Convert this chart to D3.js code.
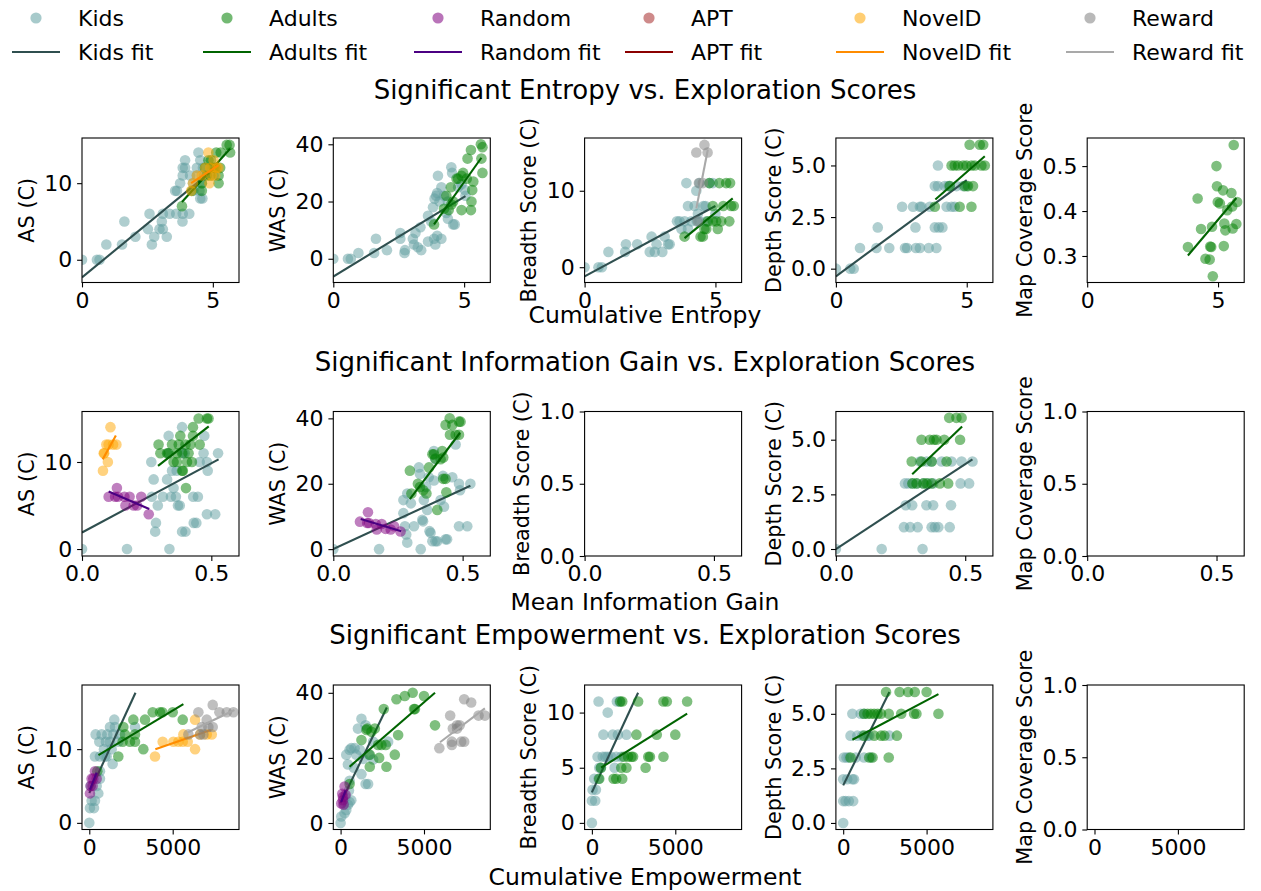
<!DOCTYPE html>
<html>
<head>
<meta charset="utf-8">
<script src="https://cdn.jsdelivr.net/npm/d3@7"></script>
<style>
body { margin: 0; background: #fff; }
svg { font-family: "DejaVu Sans", sans-serif; }
</style>
</head>
<body>
<svg id="chart" width="1261" height="891"></svg>
<script>
// groups and their colours
var groups = ["kids", "adults", "random", "apt", "noveld", "reward"];
var groupLabels = ["Kids", "Adults", "Random", "APT", "NovelD", "Reward"];
var pointColors = ["cadetblue", "green", "purple", "brown", "orange", "gray"];
var fitColors = ["darkslategray", "darkgreen", "indigo", "darkred", "darkorange", "darkgray"];

var rowTitles = ["Significant Entropy vs. Exploration Scores",
  "Significant Information Gain vs. Exploration Scores",
  "Significant Empowerment vs. Exploration Scores"];
var rowXLabels = ["Cumulative Entropy", "Mean Information Gain", "Cumulative Empowerment"];
var colYLabels = ["AS (C)", "WAS (C)", "Breadth Score (C)", "Depth Score (C)", "Map Coverage Score"];

var rowXDomains = [[0, 6.0], [0, 0.607], [-437, 8975]];
var rowXTicks = [[0, 5], [0, 0.5], [0, 5000]];
var rowXFormats = ["d", ".1f", "d"];

// ---- row 1: cumulative entropy ----
var entAS_kids = [[0,0],[0.57,0],[0.67,0],[0.93,2],[1.53,2],[1.62,5],[2.04,3],[2.52,4],[2.58,6],[2.67,2],[2.76,3],[2.96,4],[3.05,5],[3.09,4],[3.09,6],[3.24,3],[3.35,6],[3.56,9],[3.63,9],[3.6,6],[3.75,10],[3.84,5],[3.85,6],[4.1,6],[3.85,11],[3.85,12],[3.94,13],[3.94,12],[4.13,11],[4.45,14],[4.52,13],[4.52,8],[4.49,9],[4.58,10],[4.62,12],[4.67,11],[4.39,11],[4.39,12],[4.24,10],[4.26,9],[4.6,8],[4.95,12],[5.03,11]];
var entAS_adults = [[3.82,7],[4.2,9],[4.58,9],[4.58,10],[4.77,11],[4.83,13],[4.93,13],[5.03,12],[5.13,14],[5.22,11],[5.22,10],[5.28,12],[5.53,15],[5.64,15],[5.66,14],[5.3,14],[4.7,12],[4.9,11],[5.1,12]];
var entAS_noveld = [[4.17,9],[4.24,10],[4.39,11],[4.58,11],[4.71,12],[4.83,14],[4.87,10],[4.9,12],[4.96,11],[5.09,11],[5.15,12],[5.03,13],[5.22,12]];
var entAS_fits = [["kids",0,-2.3,5.03,11.8],["adults",3.82,7.55,5.66,14.5],["noveld",4.17,10.0,5.22,12.35]];

var entWAS_kids = [[0,0],[0.56,0],[0.67,0],[0.96,2],[1.63,7],[1.56,2],[2.05,3],[2.56,9],[2.56,7],[2.74,3],[2.72,2],[3.04,7],[3.08,5],[3.14,9],[3.23,4],[3.33,11],[3.36,3],[3.62,6],[3.62,15],[3.74,13],[3.85,7],[3.9,5],[3.97,8],[4.13,7],[3.81,18],[3.87,21],[3.97,23],[3.93,22],[4.0,29],[4.06,20],[4.23,22],[4.32,16],[4.38,14],[4.51,32],[4.54,30],[4.58,12],[4.64,12],[4.77,25],[4.9,26],[5.03,24],[5.05,22],[4.13,25],[4.38,20]];
var entWAS_adults = [[3.85,12],[4.23,17.5],[4.32,22],[4.41,17],[4.49,25],[4.71,28],[4.77,28],[4.9,29],[4.96,30],[4.51,19],[4.58,20],[4.9,17],[5.13,35],[5.26,38],[5.28,20],[5.31,24],[5.35,27],[5.26,17],[5.64,40],[5.7,39],[5.66,35],[5.7,30],[5.1,28]];
var entWAS_fits = [["kids",0,-6.2,5.05,21.9],["adults",3.85,12,5.66,35.3]];

var entBreadth_kids = [[0,0],[0.53,0],[0.66,0],[0.91,2],[1.58,3],[1.55,2],[2.01,3],[2.56,4],[2.49,2],[2.68,2],[2.75,3],[2.97,2],[3.06,4],[3.19,3],[3.25,3],[3.53,6],[3.63,6],[3.7,5],[3.82,6],[3.89,11],[3.95,8],[4.2,8],[4.27,10],[4.29,6],[4.39,11],[4.33,7],[4.39,6],[4.54,8],[4.62,8],[4.77,11],[4.9,11],[4.08,6],[3.95,5],[4.65,6],[5.0,7]];
var entBreadth_adults = [[3.82,4],[4.43,4],[4.52,4],[4.65,5],[4.71,6],[4.9,6],[5.03,6],[5.09,5],[5.22,6],[5.53,6],[4.77,11],[5.15,11],[5.41,11],[5.56,11],[5.6,8],[5.7,8],[4.58,5],[4.9,8],[5.3,8]];
var entBreadth_reward = [[4.27,15],[4.58,16],[4.7,15],[4.37,11],[4.52,11],[4.33,6]];
var entBreadth_fits = [["kids",0,-1.2,5.0,8.0],["adults",3.82,3.8,5.66,9.0],["reward",4.27,7.7,4.71,15.4]];

var entDepth_kids = [[0,0],[0.55,0],[0.68,0],[0.92,1],[1.55,1],[1.6,2],[2.04,1],[2.53,3],[2.64,1],[2.72,1],[2.95,3],[3.04,2],[3.06,1],[3.21,3],[3.21,1],[3.27,3],[3.55,1],[3.84,1],[3.78,2],[3.93,2],[4.07,2],[3.59,3],[3.78,4],[3.9,5],[3.9,4],[4.16,4],[4.29,4],[4.35,4],[4.23,3],[4.42,3],[4.54,3],[4.61,4],[4.86,4],[5.0,4]];
var entDepth_adults = [[3.78,3],[4.35,4],[4.42,5],[4.54,5],[4.67,5],[4.73,3],[4.92,4],[5.05,4],[5.11,6],[5.18,5],[5.24,4],[5.5,6],[5.63,6],[5.56,5],[5.69,5],[5.18,3],[4.99,5],[4.86,5],[5.31,5]];
var entDepth_fits = [["kids",0,-0.37,5.0,4.29],["adults",3.8,3.35,5.69,5.45]];

var entMap_adults = [[3.85,0.32],[4.22,0.428],[4.35,0.36],[4.52,0.294],[4.68,0.292],[4.7,0.321],[4.77,0.365],[4.74,0.32],[4.8,0.255],[4.94,0.5],[4.96,0.455],[4.99,0.42],[5.07,0.417],[5.19,0.446],[5.22,0.322],[5.24,0.372],[5.28,0.357],[5.35,0.402],[5.51,0.44],[5.54,0.41],[5.56,0.361],[5.6,0.547],[5.7,0.371],[5.73,0.42]];
var entMap_fits = [["adults",3.85,0.301,5.7,0.429]];

// ---- row 2: mean information gain ----
var igAS_kids = [[0,0],[0.174,0],[0.338,0],[0.268,10],[0.277,8],[0.27,6],[0.293,5],[0.286,3],[0.283,2],[0.313,6],[0.329,8],[0.335,13],[0.332,11],[0.344,6],[0.348,9],[0.354,7],[0.363,6],[0.366,9],[0.371,5],[0.378,5],[0.387,14],[0.387,2],[0.4,2],[0.391,11],[0.397,11],[0.432,3],[0.442,3],[0.448,6],[0.455,10],[0.47,11],[0.473,13],[0.483,10],[0.486,9],[0.483,4],[0.515,4],[0.526,11],[0.43,6]];
var igAS_adults = [[0.296,12],[0.303,11],[0.329,11],[0.335,11],[0.348,12],[0.354,10],[0.367,10],[0.38,13],[0.374,12],[0.387,9],[0.39,9],[0.4,12],[0.402,7],[0.412,11],[0.419,12],[0.429,13],[0.425,10],[0.429,14],[0.451,15],[0.483,15],[0.489,15],[0.455,12],[0.387,11],[0.367,11],[0.406,10]];
var igAS_noveld = [[0.081,9],[0.1,10],[0.086,11],[0.094,12],[0.11,14],[0.103,12],[0.133,12],[0.12,12],[0.084,11]];
var igAS_random = [[0.103,6],[0.135,7],[0.139,6],[0.128,6],[0.164,6],[0.168,5],[0.184,6],[0.2,5],[0.213,5],[0.229,6],[0.258,4]];
var igAS_fits = [["kids",0,1.9,0.528,10.3],["adults",0.294,9.55,0.49,14.1],["random",0.103,6.6,0.26,4.6],["noveld",0.08,10.3,0.131,13.05]];

var igWAS_kids = [[0,0],[0.177,0],[0.338,0],[0.271,15],[0.286,17],[0.271,11],[0.277,7],[0.282,4.5],[0.286,2],[0.3,14],[0.312,7],[0.331,25],[0.335,23],[0.344,9],[0.347,8.5],[0.35,15],[0.359,19],[0.363,12],[0.369,22],[0.372,5.5],[0.376,5],[0.383,2.4],[0.389,30],[0.395,27.5],[0.389,21],[0.395,2.4],[0.402,2.4],[0.415,15],[0.424,22.4],[0.428,13],[0.434,3],[0.44,3],[0.46,22],[0.473,32],[0.486,20],[0.486,7],[0.49,18],[0.518,7],[0.53,20]];
var igWAS_adults = [[0.296,24],[0.302,17],[0.327,20],[0.335,19],[0.348,18],[0.36,17],[0.37,25],[0.383,29],[0.389,29],[0.395,27.7],[0.415,27.5],[0.421,30],[0.425,28],[0.402,12],[0.425,21.5],[0.434,21.5],[0.437,17.4],[0.434,38],[0.45,40],[0.451,35],[0.46,38],[0.486,39],[0.492,39],[0.473,35],[0.486,35]];
var igWAS_random = [[0.103,8.4],[0.131,8],[0.134,11.3],[0.138,8],[0.164,7.7],[0.168,6],[0.187,7.7],[0.202,6.2],[0.222,6],[0.235,7],[0.26,5.4]];
var igWAS_fits = [["kids",0,0,0.53,19.4],["adults",0.296,15.3,0.49,35.6],["random",0.106,9.2,0.263,5.5]];

var igDepth_kids = [[0,0],[0.177,0],[0.335,0],[0.263,1],[0.287,1],[0.316,1],[0.37,1],[0.383,1],[0.396,1],[0.44,1],[0.27,2],[0.295,2],[0.35,2],[0.376,2],[0.445,2],[0.267,3],[0.28,3],[0.296,3],[0.312,3],[0.338,3],[0.357,3],[0.376,3],[0.482,3],[0.515,3],[0.325,4],[0.351,4],[0.37,4],[0.409,4],[0.447,4],[0.486,4],[0.528,4]];
var igDepth_adults = [[0.293,4],[0.296,3],[0.312,3],[0.331,4],[0.338,3],[0.351,3],[0.37,3],[0.402,3],[0.434,3],[0.331,5],[0.363,5],[0.379,5],[0.389,5],[0.419,5],[0.48,5],[0.428,4],[0.438,6],[0.466,6],[0.486,6],[0.37,4]];
var igDepth_fits = [["kids",0,0,0.528,4.1],["adults",0.295,3.42,0.488,5.6]];

// ---- row 3: cumulative empowerment ----
var empAS_kids = [[0,0],[40,2],[280,2],[140,3],[340,3],[540,4],[80,5],[440,5],[640,6],[640,7],[380,12],[600,11],[740,12],[340,9],[640,9],[880,10],[1000,11],[1240,11],[1340,10],[1080,12],[1440,12],[1240,13],[1540,13],[1500,14],[1400,8],[1740,11],[1840,12],[1040,9],[2740,13],[940,9]];
var empAS_adults = [[480,7],[1740,9],[2000,11],[2040,13],[2440,11],[2640,14],[2740,11],[3240,10],[3340,14],[2740,12],[3800,15],[4240,15],[4380,15],[5000,15],[5600,14],[2140,12]];
var empAS_random = [[40,4],[80,5],[140,6],[340,7],[240,6],[440,6],[200,5]];
var empAS_noveld = [[3940,9],[4400,11],[5040,11],[5340,11],[5600,11],[5640,12],[6340,10],[6340,14],[6640,12],[7040,12],[7340,12],[5900,11]];
var empAS_reward = [[5940,12],[6540,15],[6740,13],[7040,14],[7140,13],[7400,16],[7400,13],[7800,15],[8240,15],[8640,15],[6640,12],[6840,12]];
var empAS_fits = [["kids",0,4.05,2770,17.65],["adults",550,9.2,5640,16.1],["random",40,4.5,440,6.8],["noveld",3960,10.0,7280,12.6],["reward",5900,12.25,8700,15.3]];

var empWAS_kids = [[0,0],[40,2],[240,3],[340,4],[440,5.6],[540,6.4],[640,7],[200,6],[500,10],[540,13],[440,18],[340,21],[540,22.5],[640,23],[840,23],[940,21],[1040,29],[1250,32],[1350,19.7],[1150,22.5],[1500,30],[1250,15],[1500,12],[1650,12],[1700,21],[1950,25],[2850,25],[1950,19.5],[800,17],[300,8]];
var empWAS_adults = [[540,12],[1250,25.5],[1550,28.6],[1600,29],[1850,28],[2050,29],[1750,17.3],[2310,20],[2450,24],[2750,17.3],[2710,24],[2590,35],[3250,21],[3350,38],[3450,27],[3850,39],[4320,40],[4400,35],[4460,35],[5000,39],[5660,30],[1750,21],[2250,24]];
var empWAS_random = [[240,11.2],[140,8],[140,7],[180,5.6],[300,8.7],[40,6],[100,9]];
var empWAS_reward = [[5920,23],[6570,33],[6670,25],[6670,24],[6730,29],[6980,30],[7140,30],[7230,25],[7410,25],[7410,38],[7830,37],[8270,33],[8650,33],[6980,29]];
var empWAS_fits = [["kids",0,6.1,2770,35.5],["adults",540,17.3,5660,40],["random",40,6.5,300,10],["reward",5960,24.8,8650,35.2]];

var empBreadth_kids = [[0,0],[0,2],[200,2],[40,3],[240,3],[140,4],[400,4],[440,5],[340,6],[650,6],[810,6],[950,6],[1150,6],[400,11],[950,10],[690,8],[1250,8],[1460,6],[1360,5],[1500,11],[1660,11],[1560,8],[2070,8],[1760,6],[540,5]];
var empBreadth_adults = [[440,4],[540,5],[1300,4],[1460,4],[1820,4],[1700,11],[1820,11],[1760,5],[2070,5],[1920,6],[2170,6],[2370,6],[2470,6],[2670,8],[2770,11],[3220,5],[3380,6],[3480,6],[3890,8],[4290,6],[4290,11],[4490,11],[5000,8],[5710,11]];
var empBreadth_fits = [["kids",0,2.77,2770,11.8],["adults",550,5.0,5710,9.9]];

var empDepth_kids = [[0,0],[0,1],[140,1],[340,1],[600,1],[0,2],[240,2],[550,2],[650,2],[40,3],[340,3],[750,3],[1250,3],[440,4],[850,4],[1150,4],[1460,4],[2770,4],[550,5],[1050,5],[1250,5],[1560,4],[1660,3],[200,3]];
var empDepth_adults = [[440,3],[1250,5],[1460,5],[1660,5],[1860,5],[2060,5],[2270,5],[1560,3],[1760,3],[2270,4],[2470,4],[2730,3],[2570,6],[2730,5],[3220,4],[3380,6],[3480,5],[3890,6],[4290,6],[4250,5],[4390,5],[5000,6],[5710,5],[1860,4],[1250,4]];
var empDepth_fits = [["kids",0,1.72,2770,6.0],["adults",550,3.81,5710,5.9]];

// y axis ranges and ticks per panel (row, col)
var yDomains = [
  [[-2.97, 15.9], [-8.3, 42.2], [-2.0, 16.9], [-0.67, 6.33], [0.241, 0.5625]],
  [[-0.8, 15.8], [-2.1, 42.1], [0, 1], [-0.32, 6.29], [0, 1]],
  [[-0.9, 18.7], [-2.0, 42.4], [-0.6, 12.5], [-0.3, 6.32], [0, 1]]
];
var yTicks = [
  [[0, 10], [0, 20, 40], [0, 10], [0, 2.5, 5], [0.3, 0.4, 0.5]],
  [[0, 10], [0, 20, 40], [0, 0.5, 1], [0, 2.5, 5], [0, 0.5, 1]],
  [[0, 10], [0, 20, 40], [0, 5, 10], [0, 2.5, 5], [0, 0.5, 1]]
];
var yFormats = [
  ["d", "d", "d", ".1f", ".1f"],
  ["d", "d", ".1f", ".1f", ".1f"],
  ["d", "d", "d", ".1f", ".1f"]
];

var panelPoints = [
  [{kids: entAS_kids, adults: entAS_adults, noveld: entAS_noveld},
   {kids: entWAS_kids, adults: entWAS_adults},
   {kids: entBreadth_kids, adults: entBreadth_adults, reward: entBreadth_reward},
   {kids: entDepth_kids, adults: entDepth_adults},
   {adults: entMap_adults}],
  [{kids: igAS_kids, adults: igAS_adults, random: igAS_random, noveld: igAS_noveld},
   {kids: igWAS_kids, adults: igWAS_adults, random: igWAS_random},
   {},
   {kids: igDepth_kids, adults: igDepth_adults},
   {}],
  [{kids: empAS_kids, adults: empAS_adults, random: empAS_random, noveld: empAS_noveld, reward: empAS_reward},
   {kids: empWAS_kids, adults: empWAS_adults, random: empWAS_random, reward: empWAS_reward},
   {kids: empBreadth_kids, adults: empBreadth_adults},
   {kids: empDepth_kids, adults: empDepth_adults},
   {}]
];
var panelFits = [
  [entAS_fits, entWAS_fits, entBreadth_fits, entDepth_fits, entMap_fits],
  [igAS_fits, igWAS_fits, [], igDepth_fits, []],
  [empAS_fits, empWAS_fits, empBreadth_fits, empDepth_fits, []]
];

// layout
var colLeft = [82, 333.3, 584.6, 835.9, 1087.2], axW = 157;
var rowTop = [138, 411.5, 685], axH = 144.5;
var tickFont = 22, labelFont = 20.8;

var svg = d3.select("#chart");

for (var r = 0; r < 3; r++) {
  for (var c = 0; c < 5; c++) {
    drawPanel(r, c);
  }
  svg.append("text").attr("x", 645).attr("y", [99, 371, 644][r])
    .attr("text-anchor", "middle").style("font-size", "26px").text(rowTitles[r]);
  svg.append("text").attr("x", 645).attr("y", [323, 610, 885][r])
    .attr("text-anchor", "middle").style("font-size", "23.5px").text(rowXLabels[r]);
}

function drawPanel(r, c) {
  var x = d3.scaleLinear().domain(rowXDomains[r]).range([0, axW]);
  var y = d3.scaleLinear().domain(yDomains[r][c]).range([axH, 0]);
  var g = svg.append("g").attr("transform", "translate(" + colLeft[c] + "," + rowTop[r] + ")");
  var clipId = "clip" + r + "_" + c;
  g.append("clipPath").attr("id", clipId).append("rect")
    .attr("width", axW).attr("height", axH);
  var plot = g.append("g").attr("clip-path", "url(#" + clipId + ")");

  var pts = panelPoints[r][c], fits = panelFits[r][c];
  groups.forEach(function (name, k) {
    if (pts[name]) {
      plot.selectAll(null).data(pts[name]).enter().append("circle")
        .attr("cx", function (d) { return x(d[0]); })
        .attr("cy", function (d) { return y(d[1]); })
        .attr("r", 5.3)
        .attr("fill", pointColors[k])
        .attr("fill-opacity", 0.5);
    }
    fits.filter(function (f) { return f[0] === name; }).forEach(function (f) {
      plot.append("line")
        .attr("x1", x(f[1])).attr("y1", y(f[2]))
        .attr("x2", x(f[3])).attr("y2", y(f[4]))
        .attr("stroke", fitColors[k]).attr("stroke-width", 2.1);
    });
  });

  g.append("rect").attr("width", axW).attr("height", axH)
    .attr("fill", "none").attr("stroke", "#000").attr("stroke-width", 1.1);

  var xAxis = g.append("g").attr("transform", "translate(0," + axH + ")")
    .call(d3.axisBottom(x).tickValues(rowXTicks[r]).tickFormat(d3.format(rowXFormats[r]))
      .tickSize(4.9).tickPadding(4.9).tickSizeOuter(0));
  var yAxis = g.append("g")
    .call(d3.axisLeft(y).tickValues(yTicks[r][c]).tickFormat(d3.format(yFormats[r][c]))
      .tickSize(4.9).tickPadding(4.9).tickSizeOuter(0));
  [xAxis, yAxis].forEach(function (a) {
    a.select(".domain").remove();
    a.attr("font-family", null).attr("font-size", null);
    a.selectAll("text").style("font-size", tickFont + "px").attr("fill", "#000");
    a.selectAll("line").attr("stroke", "#000").attr("stroke-width", 1.1);
  });

  var minX = d3.min(yAxis.selectAll("text").nodes(), function (n) { return n.getBBox().x; });
  g.append("text")
    .attr("transform", "translate(" + (minX - 5.6 - 0.236 * labelFont) + "," + (axH / 2) + ") rotate(-90)")
    .attr("text-anchor", "middle").style("font-size", labelFont + "px")
    .text(colYLabels[c]);
}

// legend
var legendX = [12, 203, 414, 625, 836, 1066];
var legend = svg.append("g");
groups.forEach(function (name, k) {
  var lx = legendX[k];
  legend.append("circle").attr("cx", lx + 24).attr("cy", 18).attr("r", 5.6)
    .attr("fill", pointColors[k]).attr("fill-opacity", 0.55);
  legend.append("text").attr("x", lx + 66).attr("y", 26).style("font-size", "22px")
    .text(groupLabels[k]);
  legend.append("line").attr("x1", lx).attr("x2", lx + 48).attr("y1", 52).attr("y2", 52)
    .attr("stroke", fitColors[k]).attr("stroke-width", 2.1);
  legend.append("text").attr("x", lx + 66).attr("y", 60).style("font-size", "22px")
    .text(groupLabels[k] + " fit");
});
</script>
</body>
</html>
